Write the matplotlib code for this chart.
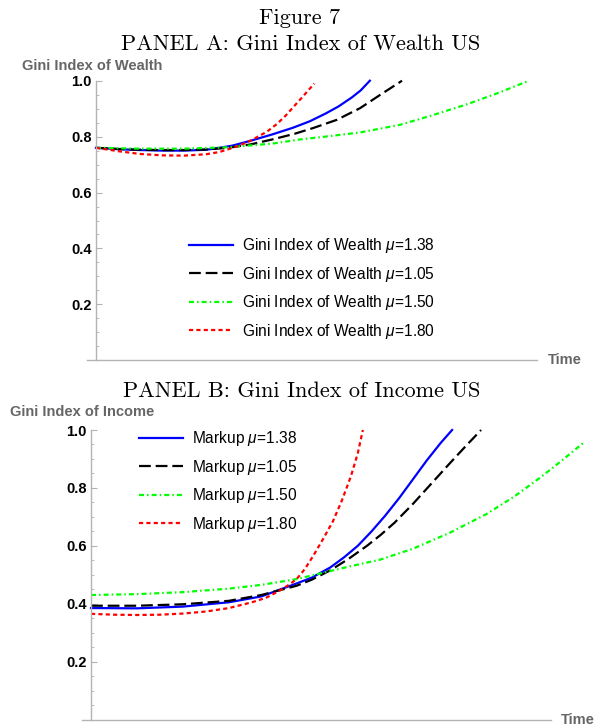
import matplotlib.pyplot as plt

plt.rcParams['font.family'] = ['Liberation Sans', 'DejaVu Sans']
plt.rcParams['mathtext.fontset'] = 'custom'
plt.rcParams['mathtext.it'] = 'Liberation Sans:italic'
plt.rcParams['mathtext.rm'] = 'Liberation Sans'
plt.rcParams['lines.scale_dashes'] = False

# Panel A: Gini index of wealth, one curve per markup
t_a_138 = [0, 5, 10, 15, 20, 25, 28, 31, 35, 40, 44.7, 48.5, 52, 55, 58, 60, 62.1]
g_a_138 = [0.760, 0.755, 0.752, 0.750, 0.750, 0.753, 0.760, 0.768, 0.785, 0.808, 0.832, 0.855, 0.882, 0.908, 0.940, 0.965, 1.0]

t_a_105 = [0, 5, 10, 15, 20, 25, 30, 35, 40, 45, 49.3, 54.6, 59.9, 64.4, 69.4]
g_a_105 = [0.760, 0.756, 0.753, 0.752, 0.752, 0.754, 0.760, 0.772, 0.790, 0.810, 0.831, 0.860, 0.902, 0.949, 1.0]

t_a_150 = [0, 10, 20, 30, 40, 46.3, 52, 59.9, 68.9, 76, 84, 91, 98.2]
g_a_150 = [0.760, 0.757, 0.757, 0.762, 0.775, 0.790, 0.800, 0.815, 0.842, 0.875, 0.915, 0.955, 1.0]

t_a_180 = [0, 5, 10, 15, 20, 25, 28, 30, 32, 35, 38.8, 41, 43, 44.7, 47, 49.5]
g_a_180 = [0.760, 0.748, 0.738, 0.733, 0.732, 0.737, 0.745, 0.755, 0.765, 0.785, 0.818, 0.845, 0.875, 0.905, 0.945, 0.99]

# Panel B: Gini index of income
t_b_138 = [0, 10, 20, 30, 37, 44.7, 48, 52, 55, 58, 61, 64, 67, 70, 73, 76, 78.5]
g_b_138 = [0.385, 0.384, 0.390, 0.405, 0.425, 0.470, 0.490, 0.525, 0.560, 0.600, 0.650, 0.705, 0.765, 0.830, 0.895, 0.955, 1.0]

t_b_105 = [0, 10, 20, 30, 37, 44.7, 48, 52, 56, 60, 63, 66, 70, 74, 78, 81.5, 84.8]
g_b_105 = [0.393, 0.393, 0.398, 0.410, 0.430, 0.462, 0.483, 0.515, 0.555, 0.600, 0.638, 0.680, 0.745, 0.815, 0.885, 0.945, 1.0]

t_b_150 = [0, 10, 20, 30, 37, 44.7, 50, 56, 62.8, 70, 78, 86, 92, 97.6, 102, 107]
g_b_150 = [0.430, 0.433, 0.440, 0.452, 0.465, 0.485, 0.505, 0.528, 0.552, 0.590, 0.645, 0.710, 0.770, 0.835, 0.890, 0.955]

t_b_180 = [0, 5, 10, 15, 20, 25, 30, 35, 38, 41, 43, 44.7, 46.5, 48.3, 50.5, 52.6, 54.5, 56.5, 58, 59.1]
g_b_180 = [0.365, 0.362, 0.361, 0.362, 0.366, 0.373, 0.385, 0.405, 0.420, 0.445, 0.465, 0.485, 0.520, 0.565, 0.625, 0.685, 0.755, 0.840, 0.920, 1.0]

mu_labels = ['1.38', '1.05', '1.50', '1.80']
yticks = [0.2, 0.4, 0.6, 0.8, 1.0]

styles = [
    dict(color='#0000ff', ls='-'),
    dict(color='black', ls=(0, (8.5, 3.5))),
    dict(color='#00ff00', ls=(0, (3.6, 2.2, 1.1, 2.2))),
    dict(color='#ff0000', ls=(0, (3, 2.3))),
]
grey = '#b3b3b3'
label_grey = '#666666'

W, H = 597, 725
fig = plt.figure(figsize=(W / 100, H / 100), dpi=100)


def px_axes(x0, x1, y_top, y_zero):
    return fig.add_axes([x0 / W, 1 - y_zero / H, (x1 - x0) / W, (y_zero - y_top) / H])


def setup(ax, x_left):
    ax.set_ylim(0, 1.0)
    ax.set_xlim(x_left, 100)
    ax.spines['right'].set_visible(False)
    ax.spines['top'].set_visible(False)
    ax.spines['left'].set_position(('data', 0))
    for s in ['left', 'bottom']:
        ax.spines[s].set_color(grey)
        ax.spines[s].set_linewidth(1.0)
    ax.set_xticks([])
    ax.set_yticks(yticks)
    ax.set_yticklabels(['%.1f' % v for v in yticks], fontsize=10.5, fontweight='bold')
    ax.set_yticks([0.05 * i for i in range(1, 20) if i % 4 != 0], minor=True)
    ax.tick_params(axis='y', which='major', direction='in', length=4, color=grey, pad=3)
    ax.tick_params(axis='y', which='minor', direction='in', length=2.5, color=grey)
    ax.patch.set_visible(False)


leg_kw = dict(frameon=False, fontsize=11.2, handlelength=2.8, handletextpad=0.62, labelspacing=0.62,
              borderaxespad=0, borderpad=0, bbox_transform=fig.transFigure, loc='upper left')

# Panel A
axA = px_axes(87, 537, 80.7, 360.3)
setup(axA, -2.04)
curves_a = [(t_a_138, g_a_138), (t_a_105, g_a_105), (t_a_150, g_a_150), (t_a_180, g_a_180)]
for (t, g), st, mu in zip(curves_a, styles, mu_labels):
    axA.plot(t, g, lw=1.6, clip_on=False, label='Gini Index of Wealth $\\mu$=' + mu, **st)
axA.legend(bbox_to_anchor=(189 / W, 1 - 236 / H), **leg_kw)
axA.text(1.025, 0, 'Time', transform=axA.transAxes, fontsize=10.5, fontweight='bold',
         color=label_grey, va='center', ha='left')

# Panel B
axB = px_axes(82, 551, 430, 719.5)
setup(axB, -1.96)
curves_b = [(t_b_138, g_b_138), (t_b_105, g_b_105), (t_b_150, g_b_150), (t_b_180, g_b_180)]
for (t, g), st, mu in zip(curves_b, styles, mu_labels):
    axB.plot(t, g, lw=1.6, clip_on=False, label='Markup $\\mu$=' + mu, **st)
axB.legend(bbox_to_anchor=(139 / W, 1 - 429 / H), **leg_kw)
axB.text(1.02, 0, 'Time', transform=axB.transAxes, fontsize=10.5, fontweight='bold',
         color=label_grey, va='center', ha='left')

# Titles and axis names
fig.text(300 / W, 1 - 18 / H, 'Figure 7', family='cmr10', fontsize=16, ha='center', va='center')
fig.text(301 / W, 1 - 44 / H, 'PANEL A: Gini Index of Wealth US', family='cmr10', fontsize=16,
         ha='center', va='center')
fig.text(302 / W, 1 - 391 / H, 'PANEL B: Gini Index of Income US', family='cmr10', fontsize=16,
         ha='center', va='center')
fig.text(22 / W, 1 - 66 / H, 'Gini Index of Wealth', fontsize=10.5, fontweight='bold',
         color=label_grey, ha='left', va='center')
fig.text(10 / W, 1 - 412 / H, 'Gini Index of Income', fontsize=10.5, fontweight='bold',
         color=label_grey, ha='left', va='center')

fig.savefig('out.png', dpi=100)
